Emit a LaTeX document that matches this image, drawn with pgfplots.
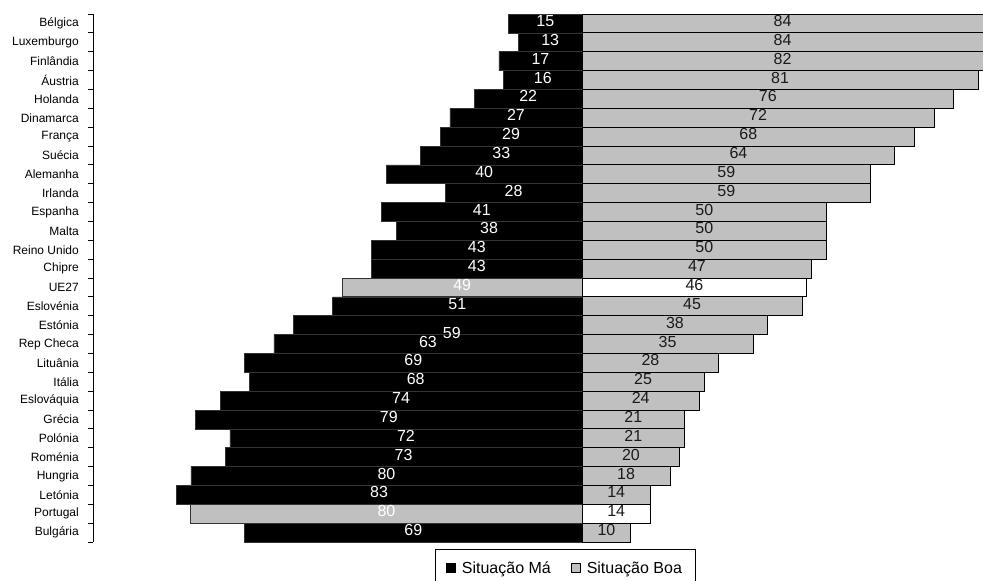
\documentclass[border=0pt]{standalone}
\usepackage{pgfplots}
\pgfplotsset{compat=1.18}
\usepackage{fontspec}
\setmainfont{Liberation Sans}
\definecolor{barGray}{HTML}{C0C0C0}
\definecolor{txtDark}{HTML}{1A1A1A}
\definecolor{edgeDark}{HTML}{333333}
\begin{document}
\begin{tikzpicture}
\begin{axis}[
  at={(93pt,39pt)}, anchor=south west,
  scale only axis, width=890pt, height=528pt,
  xmin=-100, xmax=82, ymin=-0.5, ymax=27.5,
  y dir=reverse,
  axis x line=none, axis y line*=left,
  axis line style={black, line width=0.9pt},
  ytick={0,...,27},
  yticklabels={Bélgica,Luxemburgo,Finlândia,Áustria,Holanda,Dinamarca,França,Suécia,Alemanha,Irlanda,Espanha,Malta,Reino Unido,Chipre,UE27,Eslovénia,Estónia,Rep Checa,Lituânia,Itália,Eslováquia,Grécia,Polónia,Roménia,Hungria,Letónia,Portugal,Bulgária},
  yticklabel style={font=\fontsize{12}{13}\selectfont, inner sep=0pt, anchor=east, xshift=-14pt, text=black},
  major tick length=0pt,
  minor ytick={-0.5,0.5,...,27.5},
  minor tick length=5pt,
  tick align=outside,
  minor tick style={black, line width=0.8pt},
  legend image code/.code={\draw[#1, line width=0.6pt] (0pt,-4.7pt) rectangle (9.3pt,4.7pt);},
  legend columns=2,
  legend style={at={(0.5303,-0.01326)}, anchor=north, draw=black, line width=0.8pt,
    font=\fontsize{16}{19}\selectfont, inner xsep=11pt, inner ysep=10pt,
    /tikz/every odd column/.append style={column sep=4pt},
    /tikz/every even column/.append style={column sep=18pt}},
]
% Situação Má (black)
\addplot[xbar, bar width=1, bar shift=0pt, fill=black, draw=edgeDark, line width=0.6pt, forget plot] coordinates {
(-15,0) (-13,1) (-17,2) (-16,3) (-22,4) (-27,5) (-29,6) (-33,7) (-40,8) (-28,9) (-41,10) (-38,11) (-43,12) (-43,13) (-51,15) (-59,16) (-63,17) (-69,18) (-68,19) (-74,20) (-79,21) (-72,22) (-73,23) (-80,24) (-83,25) (-69,27)};
% Situação Má highlighted (gray)
\addplot[xbar, bar width=1, bar shift=0pt, fill=barGray, draw=edgeDark, line width=1pt, forget plot] coordinates {
(-49,14) (-80,26)};
% Situação Boa (gray)
\addplot[xbar, bar width=1, bar shift=0pt, fill=barGray, draw=black, line width=1pt, forget plot] coordinates {
(84,0) (84,1) (82,2) (81,3) (76,4) (72,5) (68,6) (64,7) (59,8) (59,9) (50,10) (50,11) (50,12) (47,13) (45,15) (38,16) (35,17) (28,18) (25,19) (24,20) (21,21) (21,22) (20,23) (18,24) (14,25) (10,27)};
% Situação Boa highlighted (white)
\addplot[xbar, bar width=1, bar shift=0pt, fill=white, draw=black, line width=1pt, forget plot] coordinates {
(46,14) (14,26)};
% value labels, left
\addplot[draw=none, forget plot, nodes near coords, point meta=explicit symbolic,
  nodes near coords style={anchor=center, yshift=2.5pt, text=white, font=\fontsize{16}{19}\selectfont}] coordinates {
(-7.5,0) [15] (-6.5,1) [13] (-8.5,2) [17] (-8,3) [16] (-11,4) [22] (-13.5,5) [27] (-14.5,6) [29] (-16.5,7) [33] (-20,8) [40] (-14,9) [28] (-20.5,10) [41] (-19,11) [38] (-21.5,12) [43] (-21.5,13) [43] (-24.5,14) [49] (-25.5,15) [51] (-31.5,17) [63] (-34.5,18) [69] (-34,19) [68] (-37,20) [74] (-39.5,21) [79] (-36,22) [72] (-36.5,23) [73] (-40,24) [80] (-41.5,25) [83] (-40,26) [80] (-34.5,27) [69]};
\addplot[draw=none, forget plot, nodes near coords, point meta=explicit symbolic,
  nodes near coords style={anchor=center, xshift=14pt, yshift=-8pt, text=white, font=\fontsize{16}{19}\selectfont}] coordinates {
(-29.5,16) [59]};
% value labels, right
\addplot[draw=none, forget plot, nodes near coords, point meta=explicit symbolic,
  nodes near coords style={anchor=center, yshift=2.5pt, text=txtDark, font=\fontsize{16}{19}\selectfont}] coordinates {
(41,0) [84] (41,1) [84] (41,2) [82] (40.5,3) [81] (38,4) [76] (36,5) [72] (34,6) [68] (32,7) [64] (29.5,8) [59] (29.5,9) [59] (25,10) [50] (25,11) [50] (25,12) [50] (23.5,13) [47] (23,14) [46] (22.5,15) [45] (19,16) [38] (17.5,17) [35] (14,18) [28] (12.5,19) [25] (12,20) [24] (10.5,21) [21] (10.5,22) [21] (10,23) [20] (9,24) [18] (7,25) [14] (7,26) [14] (5,27) [10]};
\addlegendimage{fill=black, draw=black}
\addlegendentry{Situação Má}
\addlegendimage{fill=barGray, draw=black}
\addlegendentry{Situação Boa}
\end{axis}
\pgfresetboundingbox
\path[use as bounding box] (0,0) rectangle (983pt,581pt);
\end{tikzpicture}
\end{document}
